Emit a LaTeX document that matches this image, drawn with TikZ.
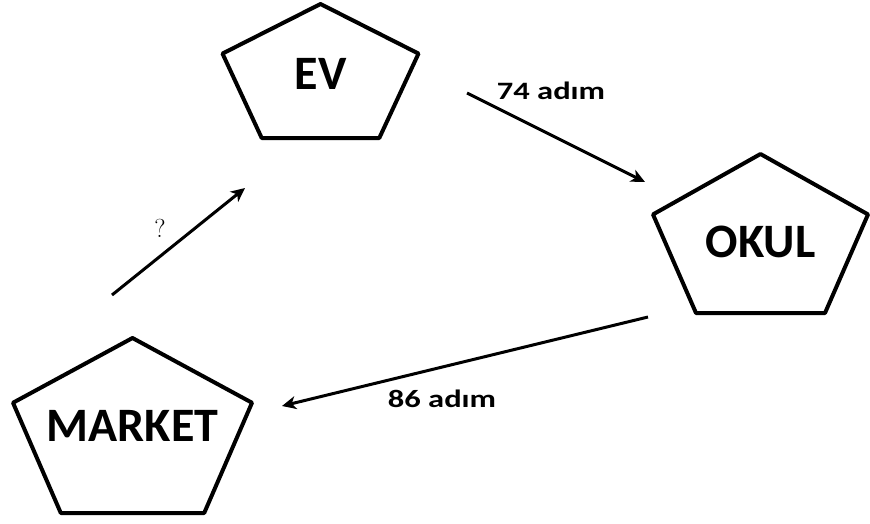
\documentclass[tikz,border=0pt]{standalone}
\usepackage{fontspec}
\usetikzlibrary{arrows.meta, calc, positioning}
\newfontfamily\placefont{Carlito}
\newfontfamily\stepfont[FakeStretch=1.3]{Carlito}
\tikzset{
  >=Stealth,
  place/.style 2 args={
    minimum width=#1, minimum height=#2, inner sep=0pt, outer sep=0pt,
    font=\placefont\bfseries\fontsize{48}{48}\selectfont
  },
  pentline/.style={line width=4pt, line join=round},
  arr/.style={-{Stealth[length=14pt,width=13pt,inset=4pt]}, line width=3pt},
  steplab/.style={font=\stepfont\bfseries\fontsize{25}{25}\selectfont, inner sep=0pt},
  asklab/.style={font=\fontsize{26}{26}\selectfont, inner sep=0pt}
}

\begin{document}
\begin{tikzpicture}[x=1pt, y=-1pt]
  \useasboundingbox (0,0) rectangle (870,523);
  % the three places
  \node[place={196pt}{134pt}, text height=37pt] (ev) at (320.5,71) {EV};
  \node[place={215pt}{159pt}, text height=48pt] (okul) at (760.5,233.5) {OKUL};
  \node[place={239pt}{175pt}] (market) at (132.5,425.5) {MARKET};
  \foreach \n/\f in {ev/0.37, okul/0.38, market/0.37}
    \draw[pentline] (\n.north) -- ($(\n.north east)!\f!(\n.south east)$)
      -- ($(\n.south east)!0.2!(\n.south west)$) -- ($(\n.south west)!0.2!(\n.south east)$)
      -- ($(\n.north west)!\f!(\n.south west)$) -- cycle;
  % walks between them
  \draw[arr] ([shift={(-20.5,-43)}]market.north) -- ([shift={(-75.5,50)}]ev.south);
  \draw[arr] ([shift={(48.5,22)}]ev.east) -- ([shift={(-8,-51.5)}]okul.west);
  \draw[arr] ([shift={(-5,4)}]okul.south west) -- ([shift={(30,-19.5)}]market.east);
  \node[asklab] (ask) at (160,228) {?};
  \node[steplab] (s74) at (551,91) {74 adım};
  \node[steplab] (s86) at (442,399) {86 adım};
\end{tikzpicture}
\end{document}
